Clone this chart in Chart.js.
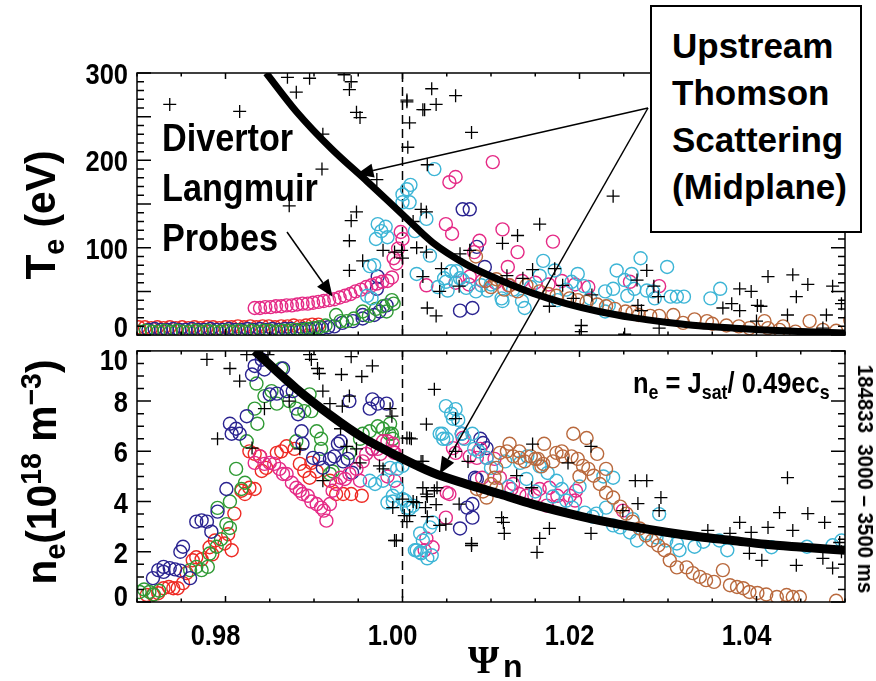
<!DOCTYPE html>
<html>
<head>
<meta charset="utf-8">
<script src="https://cdn.jsdelivr.net/npm/chart.js@4.4.0/dist/chart.umd.min.js"></script>
<style>
  body { margin: 0; background: #fff; }
  #wrap { position: relative; width: 876px; height: 681px; overflow: hidden; color: #000;
          font-family: "Liberation Sans", Arial, sans-serif; font-weight: bold; }
  canvas { position: absolute; left: 0; }
  #c1 { top: 0; }
  #c2 { top: 343px; }
  #ov { top: 0; pointer-events: none; }
  .abs { position: absolute; white-space: nowrap; line-height: 1; }
  .ytitle { font-size: 42px; transform: translate(-50%, -50%) rotate(-90deg) scaleX(0.97); }
  sub, sup { font-size: 70%; line-height: 0; position: relative; vertical-align: baseline; }
  sub { top: 0.3em; }
  sup { top: -0.5em; }
  #probes { left: 162px; top: 113px; font-size: 38px; line-height: 50px; transform: scaleX(0.9); transform-origin: 0 0; }
  #thomson { left: 650px; top: 5px; width: 212px; height: 228px; box-sizing: border-box; border: 2px solid #000;
             background: #fff; padding: 15px 0 0 20px; font-size: 35px; line-height: 47px; }
  #formula { left: 633px; top: 368px; font-size: 30px; transform: scaleX(0.85); transform-origin: 0 0; }
  #shot { left: 865px; top: 479px; font-size: 22px; transform: translate(-50%, -50%) rotate(90deg) scaleX(0.93); }
  #psi { left: 468px; top: 640px; font-family: "Liberation Serif", "Times New Roman", serif; font-size: 40px; }
  #psin { left: 503px; top: 650px; font-size: 32px; }
</style>
</head>
<body>
<div id="wrap">
  <canvas id="c1" width="876" height="343"></canvas>
  <canvas id="c2" width="876" height="338"></canvas>
  <canvas id="ov" width="876" height="681"></canvas>
  <div class="abs ytitle" style="left:41px; top:215px">T<sub>e</sub> (eV)</div>
  <div class="abs ytitle" style="left:42px; top:472px">n<sub>e</sub>(10<sup>18</sup> m<sup>−3</sup>)</div>
  <div class="abs" id="probes">Divertor<br>Langmuir<br>Probes</div>
  <div class="abs" id="thomson">Upstream<br>Thomson<br>Scattering<br>(Midplane)</div>
  <div class="abs" id="formula">n<sub>e</sub> = J<sub>sat</sub>/ 0.49ec<sub>s</sub></div>
  <div class="abs" id="shot">184833&nbsp;&nbsp;3000 – 3500 ms</div>
  <div class="abs" id="psi">Ψ</div>
  <div class="abs" id="psin">n</div>
</div>
<script>
const FONT = '"Liberation Sans", Arial, sans-serif';

// normalised flux axis
const psiMin = 0.97, psiMax = 1.05, psiStep = 0.005, psiMajor = 0.02, separatrix = 1.0;
const teRange = [0, 300], neRange = [0, 10];

// ---- Te panel (eV) ----
const teRed = [[0.9702,9],[0.9709,9],[0.9716,8],[0.9723,9],[0.9730,8],[0.9737,9],[0.9744,8],[0.9751,9],[0.9758,8],
  [0.9765,9],[0.9772,8],[0.9779,9],[0.9786,9],[0.9793,8],[0.9800,9],[0.9807,9],[0.9814,10],[0.9821,9],[0.9828,10],
  [0.9835,9],[0.9842,10],[0.9849,10],[0.9856,9],[0.9863,10],[0.9870,10],[0.9877,11],[0.9884,10],[0.9891,11],[0.9898,12],[0.9905,12]];
const teGreen = [[0.9703,4],[0.9710,5],[0.9717,4],[0.9724,4],[0.9731,5],[0.9738,4],[0.9745,5],[0.9752,4],[0.9759,4],
  [0.9766,5],[0.9773,4],[0.9780,5],[0.9787,4],[0.9794,4],[0.9801,5],[0.9808,4],[0.9815,5],[0.9822,4],[0.9829,5],[0.9836,4],
  [0.9843,5],[0.9850,5],[0.9857,4],[0.9864,5],[0.9871,5],[0.9878,6],[0.9885,6],[0.9892,7],[0.9899,8],[0.9906,9],[0.9913,11],
  [0.9925,23],[0.9930,16],[0.9937,16],[0.9945,19],[0.9955,27],[0.9962,22],[0.9970,30],[0.9978,33],[0.9982,27],[0.9988,40],[0.9990,36]];
const teNavy = [[0.9713,6],[0.9720,7],[0.9727,6],[0.9734,6],[0.9741,7],[0.9748,6],[0.9755,6],[0.9762,7],[0.9769,6],
  [0.9776,6],[0.9783,7],[0.9790,6],[0.9797,6],[0.9804,7],[0.9811,6],[0.9818,6],[0.9825,7],[0.9832,6],[0.9839,7],[0.9846,6],
  [0.9853,7],[0.9860,6],[0.9867,7],[0.9874,7],[0.9881,6],[0.9888,7],[0.9895,7],[0.9902,8],[0.9909,8],[0.9916,9],[0.9923,10],
  [0.9932,14],[0.9944,16],[0.9955,19],[0.9955,23],[0.9968,23],[0.9974,27],[0.9982,34],[0.9971,53],[0.9972,67],
  [1.0068,144],[1.0076,144],[1.0065,28],[1.0079,31],[1.0093,78],[1.0084,101]];
const tePink = [[0.9833,31],[0.9839,31],[0.9845,32],[0.9851,32],[0.9857,33],[0.9863,33],[0.9869,34],[0.9875,34],
  [0.9881,35],[0.9887,36],[0.9893,36],[0.9899,37],[0.9905,38],[0.9911,39],[0.9917,40],[0.9923,41],[0.9929,43],[0.9935,45],
  [0.9941,47],[0.9947,50],[0.9953,52],[0.9959,55],[0.9965,57],[0.9971,59],[0.9977,61],[0.9983,62],[0.9988,66],
  [0.9990,88],[0.9995,99],[1.0000,110],[0.9993,82],[0.9998,118],
  [1.0102,198],[1.0053,175],[1.0060,181],[1.0049,127],[1.0056,116],[1.0087,108],[1.0113,121],[1.0130,95],[1.0119,78],
  [1.0027,57],[1.0076,67],[1.0081,95],[1.0170,107],
  [1.0060,60],[1.0075,58],[1.0090,62],[1.0105,60],[1.0120,57],[1.0135,62],[1.0150,60],[1.0165,58],[1.0180,62],
  [1.0195,58],[1.0210,55],[1.0257,61],[1.0290,56]];
const teCyan = [[0.9972,127],[0.9976,119],[0.9981,124],[0.9970,110],[0.9983,112],[0.9968,80],[0.9963,79],[0.9965,42],[0.9960,45],
  [1.0005,167],[1.0009,172],[1.0000,161],[1.0000,152],[1.0008,152],[1.0014,119],[1.0027,133],[1.0036,190],[1.0031,91],
  [1.0016,70],[1.0051,51],[1.0049,61],[1.0061,73],[1.0068,63],[1.0083,50],[1.0096,51],[1.0113,39],[1.0135,39],[1.0138,31],
  [1.0047,65],[1.0055,73],[1.0065,65],[1.0072,54],[1.0089,57],[1.0112,42],[1.0159,85],[1.0172,74],[1.0155,68],[1.0198,70],
  [1.0191,61],[1.0229,50],[1.0242,74],[1.0251,63],[1.0238,53],[1.0259,70],[1.0262,53],[1.0269,88],[1.0254,45],[1.0276,51],
  [1.0283,50],[1.0285,42],[1.0299,78],[1.0303,44],[1.0310,44],[1.0318,44],[1.0348,42],[1.0359,53],[1.0233,34],[1.0229,27],
  [1.0040,55],[1.0100,58],[1.0125,52],[1.0145,55],[1.0185,52],[1.0205,56],[1.0175,40],[1.0212,42]];
const teBrown = [[1.0083,90],[1.0094,62],[1.0106,64],[1.0121,57],[1.0140,57],[1.0155,50],[1.0174,45],[1.0189,42],
  [1.0208,38],[1.0230,33],[1.0252,27],[1.0267,23],[1.0290,22],[1.0306,23],[1.0317,14],[1.0344,16],[1.0366,11],[1.0392,8],
  [1.0409,16],[1.0413,8],[1.0426,6],[1.0444,4],[1.0460,16],[1.0506,17],
  [1.0100,55],[1.0115,52],[1.0130,50],[1.0165,47],[1.0198,40],[1.0220,35],[1.0240,30],[1.0260,26],[1.0280,22],
  [1.0330,18],[1.0350,13],[1.0380,10],[1.0430,10],[1.0475,6],[1.0490,5]];
const teThomson = [[0.9737,264],[0.9816,256],[0.9870,295],[0.9895,294],[0.9880,278],[0.9934,298],[0.9942,290],[0.9940,281],
  [0.9948,255],[0.9952,249],[0.9910,230],[0.9909,190],[0.9872,148],[0.9971,178],[1.0005,269],[1.0008,243],[1.0006,215],
  [1.0023,258],[0.9948,141],[0.9942,131],[0.9940,108],[0.9940,74],[0.9955,85],[0.9978,97],[0.9991,95],[1.0000,88],
  [0.9999,97],[1.0012,130],[1.0027,141],[1.0023,67],[1.0028,31],
  [1.0033,282],[1.0005,267],[1.0025,258],[1.0038,264],[1.0060,274],[1.0078,232],[1.0028,195],[1.0238,159],[1.0021,144],
  [1.0155,127],[1.0130,114],[1.0113,105],[1.0016,100],[1.0027,95],[1.0044,76],[1.0065,93],[1.0076,97],[1.0042,50],
  [1.0064,56],[1.0038,22],[1.0118,68],[1.0136,65],[1.0147,75],[1.0172,76],[1.0181,57],[1.0166,33],[1.0193,42],
  [1.0214,46],[1.0202,11],[1.0202,4],[1.0251,1],[1.0265,63],[1.0276,74],[1.0266,34],[1.0270,28],[1.0284,56],[1.0289,44],
  [1.0290,8],[1.0413,67],[1.0441,69],[1.0458,58],[1.0381,53],[1.0394,50],[1.0445,44],[1.0362,31],[1.0372,36],[1.0381,28],
  [1.0401,34],[1.0405,33],[1.0400,16],[1.0435,23],[1.0479,23],[1.0475,8],[1.0486,56],[1.0496,36]];
const teFitPsi = [0.9846, 0.988, 0.992, 0.996, 1.000, 1.0034, 1.0072, 1.011, 1.0147, 1.0185, 1.0222, 1.026, 1.030, 1.0335, 1.0373, 1.041, 1.045, 1.050];
const teFit = [300, 256, 213, 176, 138, 106, 81, 63, 48, 36, 27, 20, 14.5, 10.6, 8, 5.8, 4.2, 2.5];

// ---- ne panel (1e18 m^-3) ----
const neRed = [[0.9711,0.28],[0.9718,0.3],[0.9724,0.35],[0.9730,0.55],[0.9736,0.6],[0.9741,0.55],[0.9746,0.55],[0.9752,0.75],
  [0.9756,1.15],[0.9763,1.66],[0.9767,1.78],[0.9773,1.7],[0.9782,2.18],[0.9785,1.9],[0.9788,2.45],[0.9799,2.33],[0.9807,2.06],
  [0.9803,2.7],[0.9810,3.52],[0.9818,4.43],[0.9822,4.3],[0.9827,4.55],[0.9833,4.5],[0.9827,6.0],[0.9833,5.9],[0.9839,5.8],
  [0.9841,5.22],[0.9846,5.34],[0.9858,5.94],[0.9863,6.0],[0.9869,6.2],[0.9878,6.1],[0.9884,5.5],[0.9889,5.22],[0.9895,4.95],
  [0.9897,5.54],[0.9903,5.2],[0.9918,4.83],[0.9925,4.3],[0.9933,4.3],[0.9942,4.3],[0.9954,4.23]];
const neGreen = [[0.9703,0.4],[0.9708,0.5],[0.9714,0.4],[0.9719,0.3],[0.9725,0.45],[0.9760,1.27],[0.9767,1.4],[0.9773,1.27],
  [0.9780,1.4],[0.9782,1.93],[0.9790,2.2],[0.9795,2.5],[0.9791,3.75],[0.9801,3.1],[0.9805,2.95],[0.9805,4.0],[0.9818,4.5],
  [0.9812,5.3],[0.9822,4.75],[0.9824,6.4],[0.9836,7.1],[0.9833,7.7],[0.9835,8.7],[0.9844,8.2],[0.9852,8.4],[0.9858,7.9],
  [0.9863,9.3],[0.9872,8.0],[0.9880,7.7],[0.9889,7.6],[0.9897,7.6],[0.9895,8.27],[0.9880,6.4],[0.9903,6.8],[0.9908,6.5],
  [0.9908,6.1],[0.9918,5.1],[0.9921,5.2],[0.9940,5.94],[0.9955,6.7],[0.9963,6.8],[0.9972,7.0],[0.9978,6.9],[0.9985,6.7],
  [0.9989,6.5],[0.9952,6.5],[0.9986,7.1],[0.9988,6.7]];
const neNavy = [[0.9718,0.95],[0.9724,1.27],[0.9730,1.4],[0.9737,1.35],[0.9743,1.3],[0.9749,1.25],[0.9730,1.2],[0.9752,2.2],
  [0.9749,2.0],[0.9760,0.95],[0.9767,3.2],[0.9773,3.25],[0.9779,3.2],[0.9784,2.8],[0.9791,3.6],[0.9801,4.5],[0.9805,7.1],
  [0.9812,6.9],[0.9807,6.7],[0.9816,6.7],[0.9824,7.4],[0.9830,9.06],[0.9833,9.4],[0.9841,9.65],[0.9844,9.26],[0.9850,8.27],
  [0.9858,8.3],[0.9865,9.3],[0.9869,8.4],[0.9876,8.4],[0.9882,7.48],[0.9886,6.8],[0.9887,6.3],[0.9899,5.74],[0.9906,5.7],
  [0.9910,5.35],[0.9918,5.7],[0.9923,5.8],[0.9927,6.3],[0.9933,5.6],[0.9938,5.7],[0.9940,8.0],[0.9963,7.7],[0.9966,8.07],
  [0.9972,7.9],[0.9982,7.9],[0.9930,6.4],[0.9943,5.15],[0.9966,6.1],
  [1.0084,4.9],[1.0079,3.9],[1.0073,3.76],[1.0079,3.36],[1.0065,2.93],[1.0091,6.33],[1.0095,6.13],[1.0067,6.7],[1.0088,6.5],[1.0082,4.95]];
const nePink = [[0.9833,5.54],[0.9839,5.8],[0.9844,5.5],[0.9850,5.54],[0.9855,5.5],[0.9861,5.3],[0.9865,5.1],[0.9869,5.1],
  [0.9875,4.75],[0.9880,4.55],[0.9884,4.43],[0.9887,4.3],[0.9893,4.23],[0.9897,4.0],[0.9903,3.9],[0.9908,3.76],[0.9911,3.64],
  [0.9914,3.24],[0.9918,3.9],[0.9921,4.43],[0.9925,4.7],[0.9930,4.95],[0.9935,4.9],[0.9940,5.1],[0.9948,5.3],[0.9955,5.6],
  [0.9959,5.9],[0.9966,6.1],[0.9972,6.1],[0.9978,6.4],[0.9983,6.4],[0.9989,6.0],[0.9975,5.9],[0.9952,4.83],
  [0.9989,6.3],[0.9991,5.94],[0.9991,4.83],[0.9983,5.0],[1.0060,5.94],[1.0050,4.35],[1.0049,3.36],[1.0025,2.06],[1.0076,5.8],
  [1.0084,5.74],[1.0095,5.74],[1.0088,6.1],[1.0068,6.53],[1.0123,4.5],[1.0132,4.3],[1.0140,4.23],[1.0149,4.23],[1.0155,4.5],
  [1.0166,4.55],[1.0175,4.23],[1.0189,4.23],[1.0196,4.43],[1.0163,3.84],[1.0177,3.84],[1.0057,6.13],[1.0104,5.7],[1.0110,4.95],
  [1.0090,4.95],[1.0125,4.7],[1.0195,4.04],[1.0249,3.64],[1.0053,4.3],[1.0027,2.53],[1.0034,2.18]];
const neCyan = [[1.0049,7.8],[1.0055,7.5],[1.0042,6.7],[1.0046,6.5],[1.0050,6.5],[1.0070,6.5],[1.0081,6.1],[1.0086,6.0],
  [1.0095,5.74],[1.0100,5.34],[1.0116,5.6],[1.0133,5.54],[1.0141,5.8],[1.0155,5.4],[1.0164,5.14],[1.0174,4.83],[1.0180,4.5],
  [1.0185,4.04],[1.0192,3.76],[1.0206,3.56],[1.0219,3.52],[1.0230,3.76],[1.0238,4.95],[1.0227,5.0],[1.0238,3.05],[1.0246,2.97],
  [1.0257,2.77],[1.0265,2.45],[1.0276,2.73],[1.0287,2.57],[1.0298,2.45],[1.0310,2.33],[1.0313,2.06],[1.0358,2.45],[1.0367,2.06],
  [1.0417,2.18],[1.0457,2.2],[1.0486,2.26],[1.0496,2.45],
  [1.0005,3.76],[1.0020,2.73],[1.0023,2.45],[1.0014,2.06],[1.0020,1.98],[1.0033,1.86],[1.0031,2.97],[1.0034,3.17],
  [0.9986,5.34],[0.9994,5.3],[1.0000,5.42],[0.9978,4.83],[0.9983,3.96],[0.9989,4.23],[1.0003,4.04],[1.0008,3.72],[1.0012,3.84],
  [1.0016,2.06],[1.0021,1.94],[1.0028,1.74],[1.0060,7.68],[1.0057,7.3],[1.0063,7.25],[1.0045,6.7],[1.0067,6.7],[1.0079,6.7],
  [0.9963,4.83],[0.9969,4.7],[0.9994,4.55],[0.9989,4.0],[1.0000,4.1],
  [1.0120,4.6],[1.0140,4.9],[1.0150,4.4],[1.0170,4.2],[1.0200,4.6],[1.0215,3.4],[1.0260,3.3],[1.0290,3.5],[1.0330,2.2],[1.0340,2.4]];
const neBrown = [[1.0095,4.16],[1.0106,4.55],[1.0106,5.34],[1.0110,5.94],[1.0118,6.0],[1.0121,6.3],[1.0125,5.8],[1.0132,5.74],
  [1.0138,5.6],[1.0145,5.8],[1.0153,5.7],[1.0159,5.5],[1.0170,5.6],[1.0174,5.94],[1.0181,5.8],[1.0191,5.8],[1.0193,6.7],
  [1.0198,5.7],[1.0208,6.53],[1.0204,5.42],[1.0210,5.3],[1.0216,5.03],[1.0223,4.7],[1.0230,4.35],[1.0238,4.16],[1.0246,3.8],
  [1.0253,3.52],[1.0260,3.2],[1.0268,2.93],[1.0275,2.65],[1.0282,2.45],[1.0289,2.25],[1.0296,2.06],[1.0302,1.66],[1.0310,1.38],
  [1.0321,1.38],[1.0328,1.15],[1.0336,1.0],[1.0343,0.87],[1.0352,0.8],[1.0362,1.27],[1.0370,0.67],[1.0378,0.6],[1.0385,0.55],
  [1.0392,0.4],[1.0401,0.36],[1.0411,0.3],[1.0423,0.2],[1.0434,0.28],[1.0441,0.2],[1.0449,0.2],[1.0490,0.05],
  [1.0132,6.0],[1.0150,5.7],[1.0157,5.4],[1.0104,4.95],[1.0100,4.7],[1.0084,4.5],[1.0091,4.4],[1.0160,6.3],[1.0180,6.0],
  [1.0220,5.9],[1.0230,5.3],[1.0200,5.0]];
const neThomson = [[0.9779,9.66],[0.9805,9.3],[0.9816,8.8],[0.9824,9.85],[0.9842,9.85],[0.9848,9.85],[0.9895,9.85],[0.9897,9.66],
  [0.9904,9.3],[0.9906,9.1],[0.9942,9.77],[0.9966,9.4],[0.9931,9.06],[0.9954,8.98],[0.9910,8.4],[0.9940,8.2],[0.9932,7.8],
  [0.9918,7.9],[0.9872,8.0],[0.9844,7.7],[0.9791,6.5],[0.9830,6.13],[0.9884,6.1],[0.9930,6.9],[0.9937,6.2],[0.9948,6.1],
  [0.9952,5.54],[0.9974,5.42],[0.9978,5.3],[0.9910,4.83],[0.9986,7.7],[0.9988,7.4],[0.9993,2.45],[1.0005,6.53],[1.0008,6.53],
  [1.0002,3.44],[1.0005,3.2],[1.0016,3.96],[1.0023,4.55],[1.0027,7.08],[1.0023,5.6],[1.0027,4.3],
  [1.0036,8.47],[1.0010,6.5],[1.0021,5.6],[0.9989,3.76],[1.0000,4.1],[1.0008,3.44],[1.0012,4.0],[1.0028,4.2],[1.0036,4.43],
  [1.0039,4.55],[1.0026,3.76],[1.0038,3.88],[1.0028,3.4],[1.0042,3.05],[1.0049,3.1],[1.0060,6.0],[1.0064,3.9],[1.0074,5.6],
  [1.0078,2.33],[0.9991,2.45],[1.0112,3.36],[1.0114,3.17],[1.0115,2.73],[1.0129,5.03],[1.0146,4.55],[1.0147,6.29],[1.0155,2.53],
  [1.0152,1.98],[1.0166,2.93],[1.0187,5.54],[1.0060,7.3],[1.0213,6.2],[1.0263,4.83],[1.0276,4.83],[1.0249,3.64],[1.0266,3.92],
  [1.0292,4.16],[1.0290,3.64],[1.0213,2.73],[1.0078,2.25],[1.0345,2.85],[1.0370,2.73],[1.0381,3.17],[1.0394,2.77],
  [1.0392,1.94],[1.0406,1.66],[1.0413,2.97],[1.0426,3.56],[1.0441,2.85],[1.0435,4.95],[1.0445,1.46],[1.0458,3.52],[1.0477,3.17],
  [1.0475,1.74],[1.0486,1.35],[1.0494,2.37],[1.0496,2.0]];
const neFitPsi = [0.9833, 0.988, 0.9918, 0.9955, 0.9995, 1.0034, 1.0072, 1.011, 1.0147, 1.0185, 1.0222, 1.026, 1.0298, 1.0335, 1.0373, 1.041, 1.0449, 1.050];
const neFit = [10, 8.5, 7.45, 6.55, 5.8, 5.15, 4.7, 4.3, 3.9, 3.55, 3.25, 3.0, 2.78, 2.6, 2.45, 2.3, 2.19, 2.06];

const colors = { red: '#ee2a24', green: '#2f9a34', navy: '#2a2390', pink: '#e52a86', cyan: '#3db5d6', brown: '#b9693d' };

const onStep = (v, step) => Math.abs(v / step - Math.round(v / step)) < 1e-6;
const pts = arr => arr.map(([x, y]) => ({ x, y }));

function probe(arr, color) {
  return { data: pts(arr), showLine: false, pointStyle: 'circle', pointRadius: 6.5, pointBorderWidth: 1.4,
           borderColor: color, backgroundColor: 'rgba(0,0,0,0)', order: 3 };
}
function thomson(arr) {
  return { data: pts(arr), showLine: false, pointStyle: 'cross', pointRadius: 6.5, pointBorderWidth: 1.3,
           borderColor: '#000', order: 1 };
}
function fit(psi, vals, width) {
  return { data: psi.map((x, i) => ({ x, y: vals[i] })), showLine: true, borderColor: '#000', borderWidth: width,
           pointRadius: 0, cubicInterpolationMode: 'monotone', order: 0 };
}

// narrow bold label, as the plotting package draws them
function narrowText(ctx, text, x, y, align) {
  ctx.save();
  ctx.translate(x, y);
  ctx.scale(0.85, 1);
  ctx.textAlign = align;
  ctx.fillText(text, 0, 0);
  ctx.restore();
}

// frame with inward ticks on all four sides, dashed separatrix, tick labels
const boxAxes = {
  id: 'boxAxes',
  beforeDatasetsDraw(chart) {
    const { ctx, chartArea: a, scales: { x } } = chart;
    const px = x.getPixelForValue(separatrix);
    ctx.save();
    ctx.strokeStyle = '#000';
    ctx.lineWidth = 1.5;
    ctx.setLineDash([9, 5]);
    ctx.beginPath();
    ctx.moveTo(px, a.top);
    ctx.lineTo(px, a.bottom);
    ctx.stroke();
    ctx.restore();
  },
  afterDatasetsDraw(chart, args, o) {
    const { ctx, chartArea: a, scales: { x, y } } = chart;
    ctx.save();
    ctx.strokeStyle = '#000';
    ctx.lineWidth = 1.5;
    ctx.strokeRect(a.left, a.top, a.right - a.left, a.bottom - a.top);
    ctx.beginPath();
    x.ticks.forEach((t, i) => {
      const p = x.getPixelForTick(i);
      const len = onStep(t.value, psiMajor) ? 6 : 3.5;
      ctx.moveTo(p, a.bottom); ctx.lineTo(p, a.bottom - len);
      ctx.moveTo(p, a.top); ctx.lineTo(p, a.top + len);
    });
    y.ticks.forEach((t, i) => {
      const p = y.getPixelForTick(i);
      const len = onStep(t.value, o.yMajor) ? 14 : 7;
      ctx.moveTo(a.left, p); ctx.lineTo(a.left + len, p);
      ctx.moveTo(a.right, p); ctx.lineTo(a.right - len, p);
    });
    ctx.stroke();

    ctx.fillStyle = '#000';
    ctx.font = 'bold 30px ' + FONT;
    ctx.textBaseline = 'alphabetic';
    const last = y.ticks.length - 1;
    y.ticks.forEach((t, i) => {
      if (!onStep(t.value, o.yLabel)) return;
      let p = y.getPixelForTick(i);
      if (i === 0) p += o.nudgeBottom;
      if (i === last) p += o.nudgeTop;
      narrowText(ctx, String(Math.round(t.value)), a.left - 9, p + 11, 'right');
    });
    if (o.xLabels) {
      x.ticks.forEach((t, i) => {
        if (!onStep(t.value, psiMajor)) return;
        narrowText(ctx, t.value.toFixed(2), x.getPixelForTick(i) - 10, a.bottom + 43, 'center');
      });
    }
    ctx.restore();
  }
};

function panel(canvas, datasets, yRange, yStep, yMajor, yLabel, pad, xHeight, xLabels, nudge) {
  return new Chart(canvas, {
    type: 'scatter',
    data: { datasets },
    options: {
      responsive: false,
      animation: false,
      events: [],
      layout: { padding: { top: pad, right: 31, left: 0, bottom: 0 } },
      plugins: {
        legend: { display: false },
        tooltip: { enabled: false },
        boxAxes: { yMajor, yLabel, xLabels, nudgeBottom: nudge[0], nudgeTop: nudge[1] }
      },
      scales: {
        x: {
          type: 'linear', min: psiMin, max: psiMax,
          grid: { display: false, drawTicks: false }, border: { display: false },
          ticks: { display: false, stepSize: psiStep, autoSkip: false },
          afterFit: s => { s.height = xHeight; }
        },
        y: {
          type: 'linear', min: yRange[0], max: yRange[1],
          grid: { display: false, drawTicks: false }, border: { display: false },
          ticks: { display: false, stepSize: yStep, autoSkip: false },
          afterFit: s => { s.width = 137; }
        }
      }
    },
    plugins: [boxAxes]
  });
}

const teChart = panel(document.getElementById('c1'), [
  fit(teFitPsi, teFit, 7),
  thomson(teThomson),
  probe(teBrown, colors.brown),
  probe(teCyan, colors.cyan),
  probe(tePink, colors.pink),
  probe(teGreen, colors.green),
  probe(teNavy, colors.navy),
  probe(teRed, colors.red)
], teRange, 10, 50, 100, 73, 6, false, [-9, 0]);

const neChart = panel(document.getElementById('c2'), [
  fit(neFitPsi, neFit, 9),
  thomson(neThomson),
  probe(neBrown, colors.brown),
  probe(neCyan, colors.cyan),
  probe(nePink, colors.pink),
  probe(neNavy, colors.navy),
  probe(neGreen, colors.green),
  probe(neRed, colors.red)
], neRange, 0.5, 2, 2, 6, 79, true, [-7, 8]);

// annotation arrows: tails fixed on the page, heads on the fitted profiles
function onChart(chart, top, psi, v) {
  return [chart.scales.x.getPixelForValue(psi), top + chart.scales.y.getPixelForValue(v)];
}
function arrow(ctx, [x0, y0], [x1, y1]) {
  const ang = Math.atan2(y1 - y0, x1 - x0), L = 17, W = 7;
  const bx = x1 - L * Math.cos(ang), by = y1 - L * Math.sin(ang);
  ctx.beginPath();
  ctx.moveTo(x0, y0);
  ctx.lineTo(bx, by);
  ctx.stroke();
  ctx.beginPath();
  ctx.moveTo(x1, y1);
  ctx.lineTo(bx + W * Math.sin(ang), by - W * Math.cos(ang));
  ctx.lineTo(bx - W * Math.sin(ang), by + W * Math.cos(ang));
  ctx.closePath();
  ctx.fill();
}
const ov = document.getElementById('ov').getContext('2d');
ov.strokeStyle = '#000';
ov.fillStyle = '#000';
ov.lineWidth = 1.5;
arrow(ov, [287, 232], onChart(teChart, 0, 0.9921, 44));
arrow(ov, [648, 108], onChart(teChart, 0, 0.9948, 184));
arrow(ov, [648, 108], onChart(neChart, 343, 1.0042, 5.1));
</script>
</body>
</html>
